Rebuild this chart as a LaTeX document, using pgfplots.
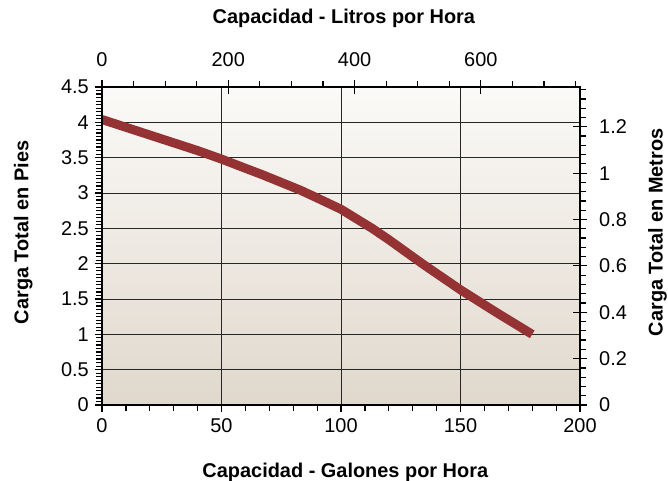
\documentclass[border=0pt]{standalone}
\usepackage{pgfplots}
\pgfplotsset{compat=1.18}
\usepackage{fontspec}
\setmainfont{Liberation Sans}
\definecolor{curve}{RGB}{148,50,52}
\definecolor{bgtop}{RGB}{251,250,248}
\definecolor{bgbot}{RGB}{224,216,204}
\newcommand{\lblfont}{\fontsize{20}{22}\selectfont\bfseries}
\begin{document}
\begin{tikzpicture}
\useasboundingbox (0,0) rectangle (668bp,481bp);
\pgfplotsset{
  base/.style={
    at={(102bp,76bp)}, anchor=south west,
    scale only axis, width=478bp, height=318bp,
    ymin=0,
    axis line style={line width=1.4bp},
    tick style={line width=1.2bp, black},
    major tick length=7bp, minor tick length=6bp,
    tick align=outside,
    ticklabel style={font=\fontsize{20}{22}\selectfont, inner sep=0pt},
    /pgf/number format/assume math mode=true,
  }
}
\begin{axis}[base,
  xmin=0, xmax=200, ymax=4.5,
  xtick={0,50,...,200}, ytick={0,0.5,...,4.5},
  minor x tick num=4, minor y tick num=9,
  xtick pos=bottom, ytick pos=left,
  grid=major, major grid style={line width=0.9bp, black!85},
  axis background/.style={shade, top color=bgtop, bottom color=bgbot},
  xticklabel style={anchor=base, yshift=-20bp},
  yticklabel style={anchor=east, xshift=-6bp},
  yticklabel style={/pgf/number format/.cd, fixed, precision=1},
  xlabel={Capacidad - Galones por Hora},
  ylabel={Carga Total en Pies},
  every axis x label/.style={at={(rel axis cs:0.509,0)}, yshift=-72bp, anchor=base, font=\lblfont, inner sep=0pt},
  every axis y label/.style={at={(rel axis cs:0,0.543)}, xshift=-73.5bp, anchor=base, rotate=90, font=\lblfont, inner sep=0pt},
]
\addplot[color=curve, line width=9bp, line cap=butt, line join=round] coordinates {
(0,4.04) (10,3.93) (20,3.82) (30,3.71) (40,3.60) (50,3.48) (60,3.35) (67,3.26)
(75,3.15) (83,3.04) (90,2.93) (100,2.77) (113,2.5) (120,2.34) (134,2.0)
(150,1.63) (165,1.31) (180,1.0)
};
\end{axis}
\begin{axis}[base,
  xmin=0, xmax=757.08, ymax=1.3716,
  xtick={0,200,400,600}, ytick={0,0.2,...,1.2},
  minor xtick={50,100,150,250,300,350,450,500,550,650,700,750},
  minor ytick={0.04,0.08,...,1.36},
  xtick pos=top, ytick pos=right,
  xticklabel pos=top, yticklabel pos=right,
  xticklabel style={anchor=base, yshift=13bp},
  yticklabel style={anchor=west, xshift=12bp},
  xlabel={Capacidad - Litros por Hora},
  ylabel={Carga Total en Metros},
  every axis x label/.style={at={(rel axis cs:0.506,1)}, yshift=63.5bp, anchor=base, font=\lblfont, inner sep=0pt},
  every axis y label/.style={at={(rel axis cs:1,0.543)}, xshift=82.5bp, anchor=base, rotate=90, font=\lblfont, inner sep=0pt},
]
\end{axis}
\begin{axis}[base,
  xmin=0, xmax=757.08, ymax=1.3716,
  xtick={0,200,400,600}, ytick={0,0.2,...,1.2},
  xtick pos=top, ytick pos=right, tick align=inside,
  xticklabels={}, yticklabels={},
  axis line style={draw=none},
]
\end{axis}
\end{tikzpicture}
\end{document}
